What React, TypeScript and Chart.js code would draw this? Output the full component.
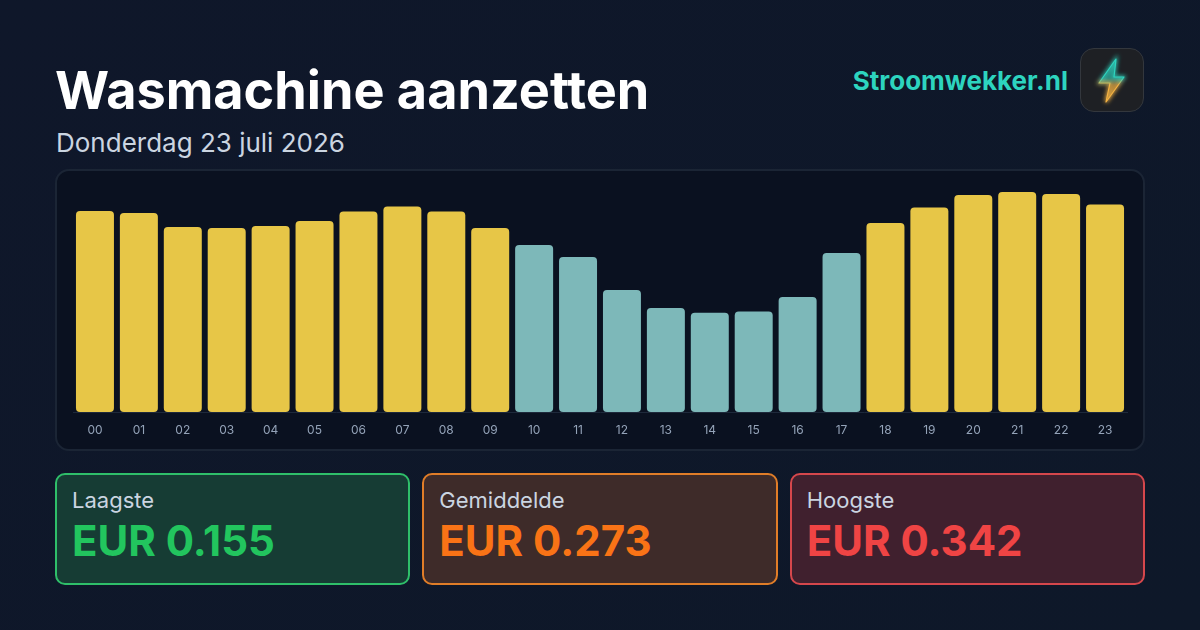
import React, { useEffect, useRef } from "react";
import { Chart, registerables } from "chart.js";

Chart.register(...registerables);

const hours = ["00","01","02","03","04","05","06","07","08","09","10","11","12","13","14","15","16","17","18","19","20","21","22","23"];
const prices = [0.3126,0.3095,0.2877,0.2862,0.2893,0.297,0.3118,0.3196,0.3118,0.2862,0.2597,0.241,0.1897,0.1617,0.1545,0.1563,0.1788,0.2473,0.294,0.318,0.3375,0.342,0.339,0.3227];
const averagePrice = 0.273;
const stats = [
  { label: "Laagste", value: "EUR 0.155", color: "#22c55e", bg: "#163c34", border: "#2fbf6a", left: 55 },
  { label: "Gemiddelde", value: "EUR 0.273", color: "#f97316", bg: "#3e2b29", border: "#e07d28", left: 422.33 },
  { label: "Hoogste", value: "EUR 0.342", color: "#ef4444", bg: "#40202e", border: "#d5474c", left: 789.67 },
];
const YELLOW = "#e7c647";
const TEAL = "#7db8b9";
const FONT = "Inter, sans-serif";
const BOLT = "M35 10 L18 34 L29 34 L25 53 L43 28 L33 28 Z";

export default function App() {
  const ref = useRef<HTMLCanvasElement>(null);
  useEffect(() => {
    const chart = new Chart(ref.current!, {
      type: "bar",
      data: {
        labels: hours,
        datasets: [{
          data: prices,
          backgroundColor: prices.map((p) => (p < averagePrice ? TEAL : YELLOW)),
          borderRadius: 4,
          borderSkipped: false,
          categoryPercentage: 1,
          barPercentage: 0.865,
        }],
      },
      options: {
        animation: false,
        responsive: false,
        layout: { padding: { left: 17, right: 17, top: 10, bottom: 0 } },
        plugins: { legend: { display: false }, tooltip: { enabled: false } },
        scales: {
          y: { display: false, min: 0, max: 0.3608 },
          x: {
            afterFit: (s: any) => { s.height = 38; },
            border: { color: "#1e293b", width: 1 },
            grid: { display: false },
            ticks: { color: "#94a3b8", font: { family: FONT, size: 12 }, padding: 3, maxRotation: 0, autoSkip: false },
          },
        },
      },
    });
    return () => chart.destroy();
  }, []);

  const abs = (s: React.CSSProperties): React.CSSProperties => ({ position: "absolute", whiteSpace: "nowrap", ...s });
  return (
    <div style={{ position: "fixed", inset: 0, width: 1200, height: 630, overflow: "hidden", fontFamily: FONT, background: "linear-gradient(135deg,#0f172a 0%,#0e1829 100%)" }}>
      <div style={abs({ left: 55, top: 59, fontSize: 52.2, lineHeight: "63px", fontWeight: 700, color: "#ffffff" })}>Wasmachine aanzetten</div>
      <div style={abs({ left: 56, top: 126, fontSize: 26, lineHeight: "33px", color: "#cbd5e1" })}>Donderdag 23 juli 2026</div>
      <div style={abs({ right: 132, top: 65, fontSize: 26, lineHeight: "32px", fontWeight: 700, color: "#2dd4bf" })}>Stroomwekker.nl</div>
      <div style={abs({ left: 1080, top: 48, width: 64, height: 64, boxSizing: "border-box", borderRadius: 14, background: "#1e2024", border: "1px solid #33373d" })}>
        <svg width="62" height="62" viewBox="0 0 62 62" style={{ display: "block" }}>
          <defs>
            <linearGradient id="bolt" x1="0" y1="0" x2="0" y2="1">
              <stop offset="0.45" stopColor="#2dd4bf" />
              <stop offset="0.6" stopColor="#f5b342" />
            </linearGradient>
            <filter id="glow" x="-50%" y="-50%" width="200%" height="200%"><feGaussianBlur stdDeviation="2" /></filter>
          </defs>
          <path d={BOLT} fill="url(#bolt)" fillOpacity="0.35" stroke="url(#bolt)" strokeWidth="2.5" filter="url(#glow)" />
          <path d={BOLT} fill="url(#bolt)" fillOpacity="0.35" stroke="url(#bolt)" strokeWidth="1.2" strokeLinejoin="round" />
        </svg>
      </div>
      <div style={abs({ left: 55, top: 169, width: 1090, height: 282, boxSizing: "border-box", borderRadius: 14, background: "#0a1120", border: "2px solid #1b2535" })} />
      <canvas ref={ref} width={1088} height={280} style={{ position: "absolute", left: 56, top: 170, width: 1088, height: 280 }} />
      {stats.map((s) => (
        <div key={s.label} style={abs({ left: s.left, top: 473, width: 355.33, height: 112, boxSizing: "border-box", borderRadius: 10, background: s.bg, border: `2px solid ${s.border}` })}>
          <div style={abs({ left: 15, top: 13, fontSize: 22, lineHeight: "24px", color: "#cbd5e1" })}>{s.label}</div>
          <div style={abs({ left: 15, top: 42, fontSize: 42, lineHeight: "48px", fontWeight: 700, color: s.color })}>{s.value}</div>
        </div>
      ))}
    </div>
  );
}
